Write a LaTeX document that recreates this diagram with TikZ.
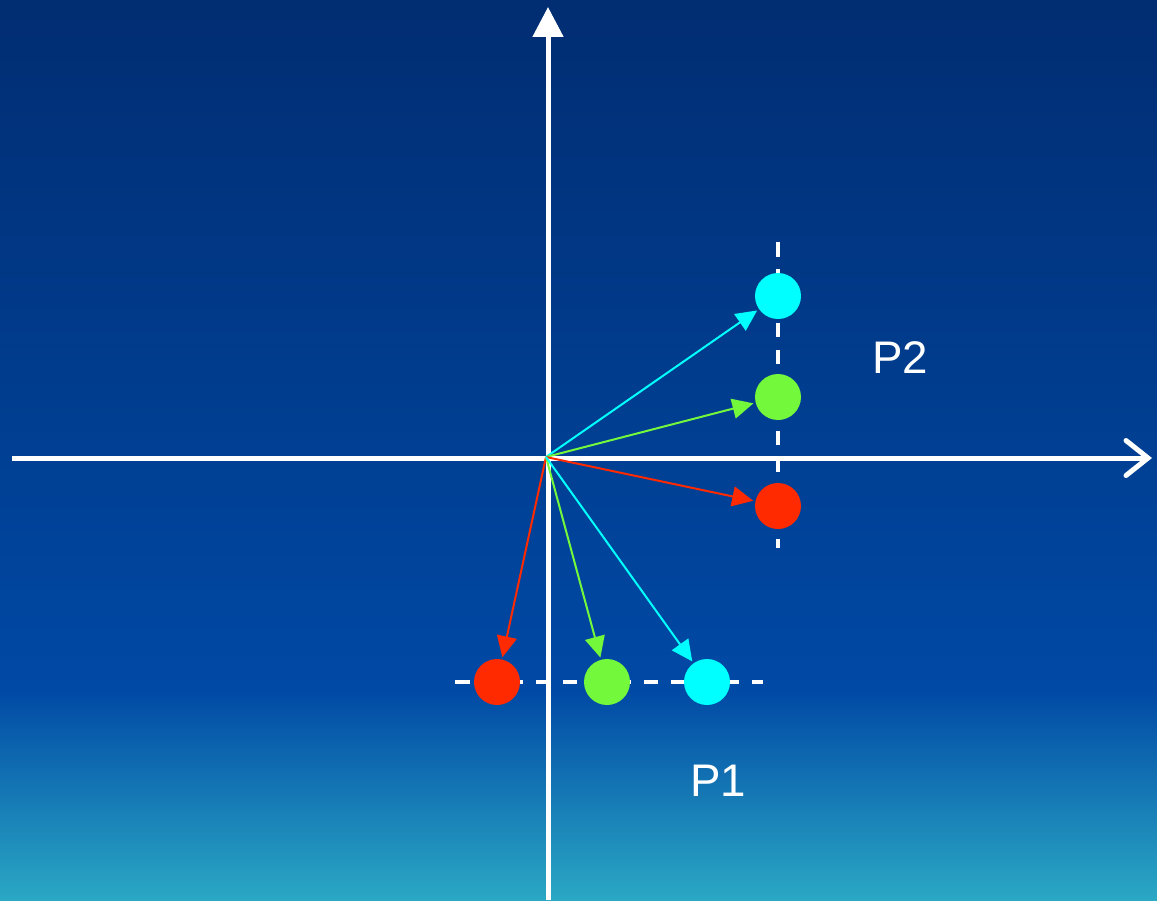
\documentclass[tikz,border=0pt]{standalone}
\usepackage{fontspec}
\setmainfont{Liberation Sans}
\usetikzlibrary{arrows.meta}
\definecolor{bgtop}{RGB}{1,45,114}
\definecolor{bgmid}{RGB}{0,73,165}
\definecolor{bgbot}{RGB}{42,168,196}
\definecolor{cyanc}{RGB}{0,255,255}
\definecolor{greenc}{RGB}{115,248,60}
\definecolor{redc}{RGB}{255,42,0}
\tikzset{
  axis/.style={white, line width=0.1cm},
  guide/.style={white, line width=0.07cm, dash pattern=on 0.29cm off 0.25cm},
  dot/.style={circle, fill=#1, draw=none, minimum size=0.92cm, inner sep=0pt},
  vec/.style={#1, line width=0.04cm, -{Triangle[length=0.42cm,width=0.4cm]}, shorten >=0.04cm},
  lbl/.style={white, font=\fontsize{26}{30}\selectfont, inner sep=0pt}
}
\begin{document}
\begin{tikzpicture}[x=0.02cm, y=-0.02cm]
\useasboundingbox (0,0) rectangle (1157,900);
\shade[top color=bgtop, bottom color=bgmid] (0,0) rectangle (1157,691);
\shade[top color=bgmid, bottom color=bgbot] (0,690) rectangle (1157,900);
% guides
\draw[guide] (778,242) -- (778,548);
\draw[guide] (455,682) -- (763,682);
% axes
\coordinate (ybot) at (548,900);
\coordinate (ytop) at (548,7);
\coordinate (xl) at (12,458);
\coordinate (xr) at (1152,458);
\draw[axis, -{Triangle[length=0.6cm,width=0.6cm]}] (ybot) -- (ytop);
\draw[axis, -{Straight Barb[length=0.44cm,width=0.7cm,line cap=round]}] (xl) -- (xr);
% dots
\node[dot=cyanc] (c2) at (778,296) {};
\node[dot=greenc] (g2) at (778,397) {};
\node[dot=redc] (r2) at (778,506) {};
\node[dot=redc] (r1) at (497,682) {};
\node[dot=greenc] (g1) at (607,682) {};
\node[dot=cyanc] (c1) at (707,682) {};
% vectors
\coordinate (O) at (546,457);
\draw[vec=cyanc] (O) -- (c2);
\draw[vec=greenc] (O) -- (g2);
\draw[vec=redc] (O) -- (r2);
\draw[vec=redc] (O) -- (r1);
\draw[vec=greenc] (O) -- (g1);
\draw[vec=cyanc] (O) -- (c1);
% labels
\node[lbl] (p2) at (900,358) {P2};
\node[lbl] (p1) at (718,781) {P1};
\end{tikzpicture}
\end{document}
